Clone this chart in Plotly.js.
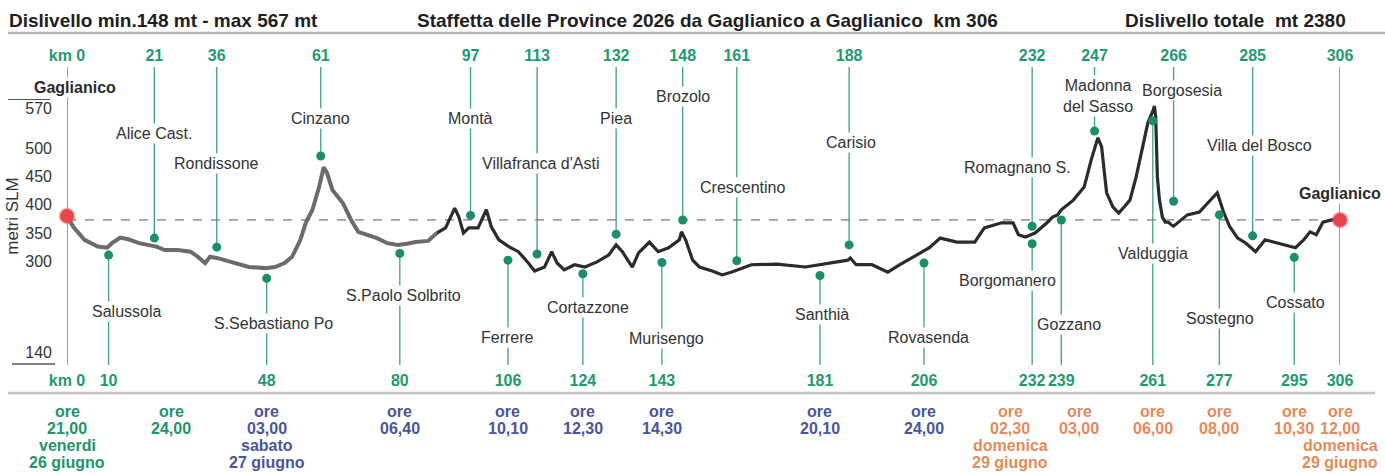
<!DOCTYPE html>
<html>
<head>
<meta charset="utf-8">
<script src="https://cdn.plot.ly/plotly-3.0.1.min.js"></script>
<style>html,body{margin:0;padding:0;background:#fff}#chart{width:1385px;height:474px}</style>
</head>
<body>
<div id="chart"></div>
<script>
// ---------------- DATA ----------------
const titleLeft = "Dislivello min.148 mt - max 567 mt";
const titleCenter = "Staffetta delle Province 2026 da Gaglianico a Gaglianico  km 306";
const titleRight = "Dislivello totale  mt 2380";
const yAxisTitle = "metri SLM";
const startFinish = "Gaglianico";

// elevation profile (km along the route, metres a.s.l.)
const profileKm = [0,1.5,4.2,7.4,9.6,10.8,12.8,14.7,17.3,21.5,
  23.5,26.6,29.7,31.3,33.2,34.4,36,39.9,43.7,47.6,
  50,52.3,54.1,56.1,57.4,59,60.6,61.7,62.5,63.8,
  66.3,68.3,70,72,74.5,77,79.5,81.7,83.8,86.8,
  88.9,91,93.2,94.2,95.3,96.6,98.8,100.8,102,103.8,
  106.4,108.5,110.9,112.4,114.8,116.5,117.8,119.5,122,124.5,
  127.4,130.2,132,133.5,134.8,135.9,137.4,140,142.1,144.6,
  147.2,147.7,148.7,150.4,152,155.1,157.5,159.8,164.5,170.6,
  177.5,183.1,187.7,188.3,189.7,193.5,197.3,200.2,204.3,207.3,
  209.9,213.9,218.2,220.5,224.7,227.4,228.7,230.4,232.7,234.2,
  235.7,236.9,238.1,239,241.9,244.5,246.2,247.8,248.7,249.3,
  249.9,251.4,252.8,254.1,255.5,257,258.3,259.8,261.1,261.4,
  261.7,261.9,262.1,262.6,263.3,264,264.8,265.5,266,269.3,
  272.2,276.5,278,279.5,281.4,283.4,285.7,288,290,295.3,
  297.3,298.8,300.3,301.9,304,306];
const profileElev = [380,361,338,326,324,332,342,339,332,326,
  320,320,317,309,297,308,306,297,290,288,
  290,297,308,338,368,391,431,466,456,426,
  403,373,352,347,341,332,329,331,334,336,
  350,359,394,378,350,359,359,391,361,338,
  325,317,297,283,290,317,297,285,294,290,
  299,311,329,317,302,290,315,334,317,324,
  338,352,338,302,290,283,276,281,294,295,
  290,297,302,306,294,294,281,294,311,324,
  341,334,334,359,368,368,347,343,350,359,
  369,378,382,391,408,431,479,518,502,461,
  421,396,385,396,408,449,496,544,567,574,
  555,502,449,408,378,369,369,364,362,382,
  387,421,387,361,341,332,317,338,334,324,
  338,352,347,369,373,373];

// stations listed along the top scale
const topNames = ["Alice Cast.","Rondissone","Cinzano","Montà","Villafranca d'Asti","Piea","Brozolo","Crescentino","Carisio","Romagnano S.","Madonna<br>del Sasso","Borgosesia","Villa del Bosco"];
const topKm = [21,36,61,97,113,132,148,161,188,232,247,266,285];
const topDotElev = [341,325,486,381,313,348,373,301,329,362,530,406,345];

// stations listed along the bottom scale
const bottomNames = ["Salussola","S.Sebastiano Po","S.Paolo Solbrito","Ferrere","Cortazzone","Murisengo","Santhià","Rovasenda","Borgomanero","Gozzano","Valduggia","Sostegno","Cossato"];
const bottomKm = [10,48,80,106,124,143,181,206,232,239,261,277,295];
const bottomDotElev = [311,270,314,302,278,298,275,297,331,373,548,382,307];

// timetable under the bottom scale
const timeKm = [0,25,48,80,106,124,143,181,206,232,239,261,277,295,306];
const timeLines = [["ore","21,00","venerdi","26 giugno"],["ore","24,00"],["ore","03,00","sabato","27 giugno"],["ore","06,40"],["ore","10,10"],["ore","12,30"],["ore","14,30"],["ore","20,10"],["ore","24,00"],["ore","02,30","domenica","29 giugno"],["ore","03,00"],["ore","06,00"],["ore","08,00"],["ore","10,30"],["ore","12,00","domenica","29 giugno"]];
const timeDay = ["ven","ven","sab","sab","sab","sab","sab","sab","sab","dom","dom","dom","dom","dom","dom"];

// elevation scale tick labels
const yTickVals = [140,300,350,400,450,500,570];
const yTickText = ["140","300","350","400","450","500","570"];

// ---------------- LAYOUT OPTIONS ----------------
const W = 1385, H = 474;
const M = {l:67, r:45, t:67, b:109};
const PW = W - M.l - M.r, PH = H - M.t - M.b;
const px2x = p => (p - M.l) / PW;
const px2y = p => (H - M.b - p) / PH;
const elevRange = [117, 643];
const kmRange = [0, 306];
const FONT = "Liberation Sans, Arial, Helvetica, sans-serif";
const GREEN = "#1f9a6f", LEADER = "#3aa57c", DOT = "#1a8f63", NAME = "#333333";
const DAYCOL = {ven:"#22946a", sab:"#4a5597", dom:"#e58a5a"};
const grayUntilKm = 87;
const topLabelPx = [133,163,118,118,163,118,96,187,142,167,96,90,145];
const topLabelShift = [0,0,0,0,3,0,0,6,2,-15,3,8,7];
const bottomLabelPx = [311,323,295,337,307,338,314,337,280,324,254,318,302];
const bottomLabelShift = [18,7,4,0,5,5,2,5,-25,8,0,1,1];
const timeShift = [0,0,0,0,0,0,0,0,0,-22,18,0,0,0,0];
const timeTopPx = 411, timeLinePx = 17.3;

// ---------------- TRACES ----------------
const splitIdx = profileKm.findIndex(k => k >= grayUntilKm);
const traces = [
  {x: profileKm.slice(0, splitIdx + 1), y: profileElev.slice(0, splitIdx + 1), mode:'lines',
   line:{color:'#6b6b6b', width:4}, hoverinfo:'skip'},
  {x: profileKm.slice(splitIdx), y: profileElev.slice(splitIdx), mode:'lines',
   line:{color:'#2b2b2b', width:3.2}, hoverinfo:'skip'},
  {x: topKm, y: topDotElev, xaxis:'x2', yaxis:'y', mode:'markers',
   marker:{color:DOT, size:9}, hoverinfo:'skip', cliponaxis:false},
  {x: bottomKm, y: bottomDotElev, mode:'markers',
   marker:{color:DOT, size:9}, hoverinfo:'skip', cliponaxis:false},
  {x: [profileKm[0], profileKm[profileKm.length-1]], y: [profileElev[0], profileElev[profileElev.length-1]],
   mode:'markers', marker:{color:'#e8454c', size:14, line:{color:'rgba(232,69,76,0.35)', width:3}},
   hoverinfo:'skip', cliponaxis:false}
];

// ---------------- SHAPES ----------------
const shapes = [];
topKm.forEach((k, i) => shapes.push({type:'line', xref:'x', yref:'y', x0:k, x1:k, y0:topDotElev[i], y1:elevRange[1], line:{color:LEADER, width:1.3}, layer:'below'}));
bottomKm.forEach((k, i) => shapes.push({type:'line', xref:'x', yref:'y', x0:k, x1:k, y0:bottomDotElev[i], y1:elevRange[0], line:{color:LEADER, width:1.3}, layer:'below'}));
kmRange.forEach(k => shapes.push({type:'line', xref:'x', yref:'paper', x0:k, x1:k, y0:0, y1:1, line:{color:LEADER, width:1.6}, layer:'below'}));
// start/finish altitude reference
shapes.push({type:'line', xref:'x', yref:'y', x0:kmRange[0], x1:kmRange[1],
  y0:profileElev[profileElev.length-1], y1:profileElev[profileElev.length-1],
  line:{color:'#7a7a7a', width:1.2, dash:'dash'}, layer:'below'});
// rules
shapes.push({type:'line', xref:'paper', yref:'paper', x0:px2x(8), x1:px2x(1385), y0:px2y(33), y1:px2y(33), line:{color:'#b4b4b4', width:2.5}});
shapes.push({type:'line', xref:'paper', yref:'paper', x0:px2x(8), x1:px2x(1375), y0:px2y(393), y1:px2y(393), line:{color:'#c4c4c4', width:2.5}});
shapes.push({type:'line', xref:'paper', yref:'paper', x0:px2x(8), x1:px2x(50), y0:px2y(99.5), y1:px2y(99.5), line:{color:'#555', width:1.2}});
shapes.push({type:'line', xref:'paper', yref:'paper', x0:px2x(12), x1:px2x(55), y0:px2y(364), y1:px2y(364), line:{color:'#555', width:1.5}});

// ---------------- ANNOTATIONS ----------------
const ann = [];
const T = (x, y, text, opt) => Object.assign({x:px2x(x), y:px2y(y), xref:'paper', yref:'paper', text, showarrow:false,
  xanchor:'left', yanchor:'middle', font:{family:FONT, size:19, color:'#1e1e1e', weight:'bold'}}, opt || {});
ann.push(T(7, 21, titleLeft));
ann.push(T(415, 21, titleCenter));
ann.push(T(1123, 21, titleRight));

const label = (k, py, text, shift, font) => ({x:k, xref:'x', y:px2y(py), yref:'paper', text, showarrow:false,
  xanchor:'center', yanchor:'middle', xshift:shift, font, bgcolor:'white', borderpad:1});
topNames.forEach((n, i) => ann.push(label(topKm[i], topLabelPx[i], n, topLabelShift[i], {family:FONT, size:16, color:NAME})));
bottomNames.forEach((n, i) => ann.push(label(bottomKm[i], bottomLabelPx[i], n, bottomLabelShift[i], {family:FONT, size:16, color:NAME})));
ann.push(label(kmRange[0], 88, startFinish, 8, {family:FONT, size:16, color:'#2a2a2a', weight:'bold'}));
ann.push(label(kmRange[1], 193, startFinish, 0, {family:FONT, size:16, color:'#2a2a2a', weight:'bold'}));

timeKm.forEach((k, i) => timeLines[i].forEach((line, j) => ann.push({x:k, xref:'x', y:px2y(timeTopPx + j*timeLinePx), yref:'paper',
  text:line, showarrow:false, xanchor:'center', yanchor:'middle', xshift:timeShift[i],
  font:{family:FONT, size:16, color:DAYCOL[timeDay[i]], weight:'bold'}})));

// ---------------- LAYOUT ----------------
const tickFont = {family:FONT, size:16, color:GREEN, weight:'bold'};
const bottomTicks = [kmRange[0]].concat(bottomKm, [kmRange[1]]);
const topTicks = [kmRange[0]].concat(topKm, [kmRange[1]]);
const kmText = k => (k === 0 ? 'km 0' : String(k));
const layout = {
  width:W, height:H, margin:M, paper_bgcolor:'white', plot_bgcolor:'white', showlegend:false,
  font:{family:FONT},
  xaxis:{range:kmRange, showgrid:false, zeroline:false, showline:false, ticks:'', tickangle:0,
    tickmode:'array', tickvals:bottomTicks, ticktext:bottomTicks.map(kmText), tickfont:tickFont, ticklabelstandoff:4, fixedrange:true},
  xaxis2:{range:kmRange, overlaying:'x', side:'top', anchor:'y', showgrid:false, zeroline:false, showline:false, ticks:'', tickangle:0,
    tickmode:'array', tickvals:topTicks, ticktext:topTicks.map(kmText), tickfont:tickFont, ticklabelstandoff:2, fixedrange:true},
  yaxis:{range:elevRange, showgrid:false, zeroline:false, showline:false, ticks:'',
    tickmode:'array', tickvals:yTickVals, ticktext:yTickText, tickfont:{family:FONT, size:16, color:'#333'},
    ticklabelstandoff:14, title:{text:yAxisTitle, font:{family:FONT, size:17, color:'#333'}, standoff:2}, fixedrange:true},
  shapes, annotations:ann
};
Plotly.newPlot('chart', traces, layout, {staticPlot:true, displayModeBar:false});
</script>
</body>
</html>
